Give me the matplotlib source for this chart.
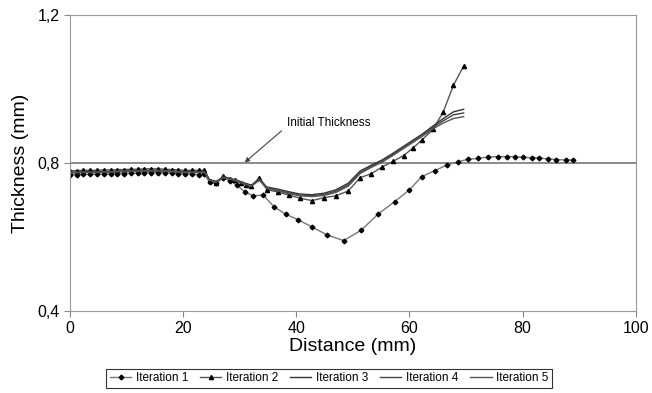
import matplotlib
matplotlib.use("Agg")
import matplotlib.pyplot as plt
from matplotlib.ticker import FuncFormatter

plt.rcParams['font.family'] = ['Liberation Sans', 'DejaVu Sans']

# iteration 1 (own mesh)
x1 = [0, 1.2, 2.4, 3.6, 4.8, 6.0, 7.2, 8.4, 9.6, 10.8, 12.0, 13.2, 14.4, 15.6, 16.8, 18.0,
      19.2, 20.4, 21.6, 22.8, 23.8, 24.7, 25.9, 27.1, 28.3, 29.5, 30.9, 32.4, 34.2, 36.1,
      38.2, 40.4, 42.8, 45.5, 48.4, 51.5, 54.5, 57.4, 60.0, 62.2, 64.5, 66.6, 68.6, 70.4,
      72.1, 73.9, 75.6, 77.2, 78.6, 80.1, 81.7, 83.0, 84.5, 86.0, 87.6, 88.9]
it1 = [0.768, 0.768, 0.769, 0.769, 0.769, 0.770, 0.770, 0.771, 0.771, 0.772, 0.772, 0.773,
       0.774, 0.774, 0.773, 0.772, 0.771, 0.770, 0.769, 0.768, 0.769, 0.748, 0.745, 0.760,
       0.752, 0.740, 0.722, 0.711, 0.713, 0.681, 0.661, 0.646, 0.627, 0.605, 0.590, 0.618,
       0.662, 0.695, 0.727, 0.763, 0.779, 0.794, 0.803, 0.810, 0.812, 0.816, 0.817, 0.817,
       0.817, 0.815, 0.814, 0.813, 0.811, 0.809, 0.808, 0.808]

# iterations 2-5 share the same mesh
x2 = [0, 1.2, 2.4, 3.6, 4.8, 6.0, 7.2, 8.4, 9.6, 10.8, 12.0, 13.2, 14.4, 15.6, 16.8, 18.0,
      19.2, 20.4, 21.6, 22.8, 23.8, 24.7, 25.9, 27.1, 28.3, 29.2, 30.3, 31.2, 32.1, 33.5,
      34.8, 36.8, 38.7, 40.6, 42.8, 44.9, 47.0, 49.2, 51.3, 53.3, 55.2, 57.1, 59.0, 60.7,
      62.3, 64.2, 66.0, 67.8, 69.6]
it2 = [0.779, 0.779, 0.780, 0.780, 0.780, 0.781, 0.781, 0.782, 0.782, 0.783, 0.783, 0.784,
       0.784, 0.784, 0.783, 0.782, 0.781, 0.780, 0.780, 0.780, 0.780, 0.752, 0.746, 0.764,
       0.757, 0.753, 0.746, 0.741, 0.737, 0.760, 0.728, 0.721, 0.713, 0.705, 0.698, 0.706,
       0.711, 0.724, 0.760, 0.771, 0.789, 0.804, 0.820, 0.841, 0.863, 0.891, 0.938, 1.010,
       1.062]
it3 = [0.775, 0.775, 0.776, 0.776, 0.776, 0.777, 0.777, 0.778, 0.778, 0.779, 0.779, 0.780,
       0.780, 0.780, 0.779, 0.778, 0.777, 0.776, 0.776, 0.776, 0.777, 0.755, 0.750, 0.762,
       0.758, 0.755, 0.749, 0.744, 0.740, 0.757, 0.735, 0.729, 0.722, 0.716, 0.714, 0.718,
       0.727, 0.745, 0.778, 0.794, 0.808, 0.826, 0.845, 0.862, 0.878, 0.900, 0.920, 0.938,
       0.945]
it4 = [0.774, 0.774, 0.775, 0.775, 0.775, 0.776, 0.776, 0.777, 0.777, 0.778, 0.778, 0.779,
       0.779, 0.779, 0.778, 0.777, 0.776, 0.775, 0.775, 0.775, 0.776, 0.754, 0.749, 0.761,
       0.757, 0.753, 0.747, 0.742, 0.738, 0.755, 0.733, 0.726, 0.719, 0.713, 0.711, 0.715,
       0.723, 0.741, 0.774, 0.791, 0.805, 0.823, 0.842, 0.859, 0.875, 0.896, 0.914, 0.930,
       0.935]
it5 = [0.773, 0.773, 0.774, 0.774, 0.774, 0.775, 0.775, 0.776, 0.776, 0.777, 0.777, 0.778,
       0.778, 0.778, 0.777, 0.776, 0.775, 0.774, 0.774, 0.774, 0.775, 0.753, 0.748, 0.760,
       0.756, 0.752, 0.746, 0.741, 0.737, 0.753, 0.731, 0.724, 0.717, 0.711, 0.709, 0.712,
       0.720, 0.737, 0.771, 0.788, 0.802, 0.820, 0.839, 0.856, 0.872, 0.892, 0.908, 0.920,
       0.925]

initial_thickness = 0.8

fig = plt.figure(figsize=(6.52, 3.93), dpi=100)
ax = fig.add_axes([0.107, 0.209, 0.868, 0.753])

ax.axhline(initial_thickness, color='#777777', lw=1.2, zorder=1)

ax.plot(x1, it1, color='#777777', lw=1.0, marker='D', ms=2.4, mfc='black', mec='black', label='Iteration 1')
ax.plot(x2, it2, color='#555555', lw=1.0, marker='^', ms=3.0, mfc='black', mec='black', label='Iteration 2')
ax.plot(x2, it3, color='#333333', lw=1.0, label='Iteration 3')
ax.plot(x2, it4, color='#444444', lw=1.0, label='Iteration 4')
ax.plot(x2, it5, color='#555555', lw=1.0, label='Iteration 5')

ax.annotate('Initial Thickness', xy=(30.9, 0.801), xytext=(38.3, 0.908),
            fontsize=8.5, va='center', ha='left',
            arrowprops=dict(arrowstyle='-|>', color='#444444', lw=0.8,
                            mutation_scale=7, shrinkA=2, shrinkB=0,
                            relpos=(0, 0.2)))

ax.set_xlim(0, 100)
ax.set_ylim(0.4, 1.2)
ax.set_xticks([0, 20, 40, 60, 80, 100])
ax.set_yticks([0.4, 0.8, 1.2])
ax.yaxis.set_major_formatter(FuncFormatter(lambda v, p: ('%.1f' % v).replace('.', ',')))
ax.tick_params(labelsize=11.5, color='#888888', length=4)
for s in ax.spines.values():
    s.set_color('#999999')
ax.set_xlabel('Distance (mm)', fontsize=14, labelpad=1)
ax.set_ylabel('Thickness (mm)', fontsize=14, labelpad=6)

leg = fig.legend(loc='center', bbox_to_anchor=(0.505, 0.038), ncol=5, fontsize=8.5,
                 frameon=True, fancybox=False, edgecolor='black', handlelength=1.8,
                 columnspacing=1.0, handletextpad=0.4, borderpad=0.3)
leg.get_frame().set_linewidth(0.8)

fig.savefig('out.png', dpi=100)
